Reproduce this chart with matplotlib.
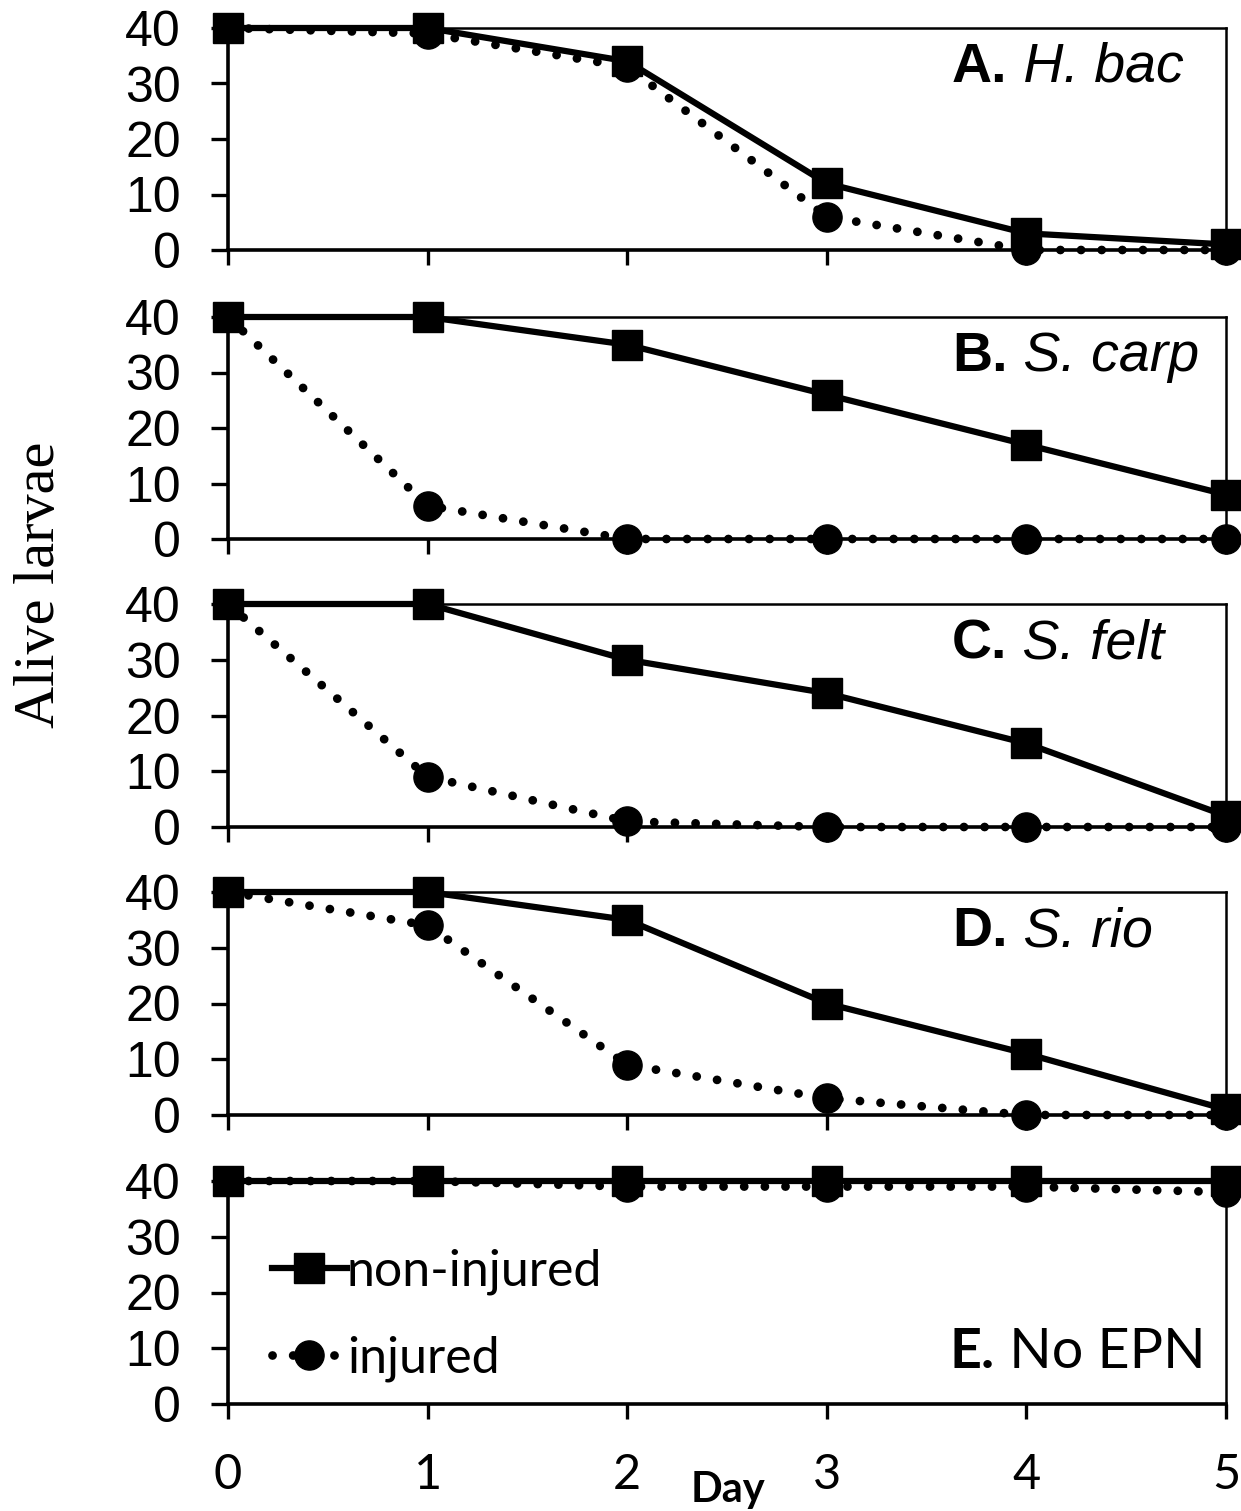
import matplotlib
matplotlib.use("Agg")
import matplotlib.pyplot as plt

days = [0, 1, 2, 3, 4, 5]
panel_letters = ["A.", "B.", "C.", "D.", "E."]
panel_names = ["H. bac", "S. carp", "S. felt", "S. rio", "No EPN"]
non_injured = [
    [40, 40, 34, 12, 3, 1],
    [40, 40, 35, 26, 17, 8],
    [40, 40, 30, 24, 15, 2],
    [40, 40, 35, 20, 11, 1],
    [40, 40, 40, 40, 40, 40],
]
injured = [
    [40, 39, 33, 6, 0, 0],
    [40, 6, 0, 0, 0, 0],
    [40, 9, 1, 0, 0, 0],
    [40, 34, 9, 3, 0, 0],
    [40, 40, 39, 39, 39, 38],
]
y_ticks = [0, 10, 20, 30, 40]
x_ticks = [0, 1, 2, 3, 4, 5]

W, H = 1241, 1511
fig = plt.figure(figsize=(W / 100, H / 100), dpi=100)

panel_px = [(28, 250), (317, 539), (604, 827), (892, 1115), (1181, 1404)]
left_px, right_px = 228, 1226

for i, (top, bot) in enumerate(panel_px):
    ax = fig.add_axes([left_px / W, 1 - bot / H, (right_px - left_px) / W, (bot - top) / H])
    ax.set_xlim(0, 5)
    ax.set_ylim(0, 40)
    ax.plot(days, injured[i], color="black", lw=6.3, linestyle=(0, (0.01, 2.35)),
            dash_capstyle="round", marker="o", markersize=21, clip_on=False,
            zorder=3, label="injured")
    ax.plot(days, non_injured[i], color="black", lw=4.5, linestyle="-",
            marker="s", markersize=21, clip_on=False, zorder=4, label="non-injured")
    for s in ["left", "bottom"]:
        ax.spines[s].set_linewidth(2.6)
    for s in ["top", "right"]:
        ax.spines[s].set_linewidth(1.8)
    ax.set_yticks(y_ticks)
    ax.set_xticks(x_ticks)
    ax.tick_params(axis="y", direction="out", length=12, width=2.4, pad=22,
                   labelsize=36)
    ax.tick_params(axis="x", direction="out", length=11, width=2.4, pad=24,
                   labelsize=35)
    for lab in ax.get_yticklabels():
        lab.set_fontfamily("Liberation Sans")
    if i < 4:
        ax.set_xticklabels([])
        t1 = ax.text(3.627, 32.8, panel_letters[i], fontsize=40, fontweight="bold",
                     family="Liberation Sans", va="center", ha="left")
        ax.annotate(" " + panel_names[i], xy=(1, 0.5), xycoords=t1, fontsize=40,
                    style="italic", family="Liberation Sans", va="center", ha="left")
    else:
        for lab in ax.get_xticklabels():
            lab.set_fontfamily("Lato")
        t1 = ax.text(3.617, 9.3, panel_letters[i], fontsize=40, fontweight="bold",
                     family="Lato", va="center", ha="left")
        ax.annotate(" " + panel_names[i], xy=(1, 0.5), xycoords=t1, fontsize=40,
                    family="Lato", va="center", ha="left")
        handles, labels = ax.get_legend_handles_labels()
        leg = ax.legend(handles[::-1], labels[::-1], loc="center left",
                        bbox_to_anchor=(0.044, 0.398), frameon=False,
                        prop={"family": "Lato", "size": 36}, handlelength=1.5,
                        handletextpad=0.0, labelspacing=0.8, borderpad=0,
                        borderaxespad=0)

fig.text(40 / W, 1 - 585 / H, "Alive larvae", rotation=90, ha="center", va="center",
         fontsize=42, family="Liberation Serif")
fig.text(728 / W, 1 - 1490 / H, "Day", ha="center", va="center", fontsize=30,
         fontweight="bold", family="Lato")

fig.savefig("out.png", dpi=100)
